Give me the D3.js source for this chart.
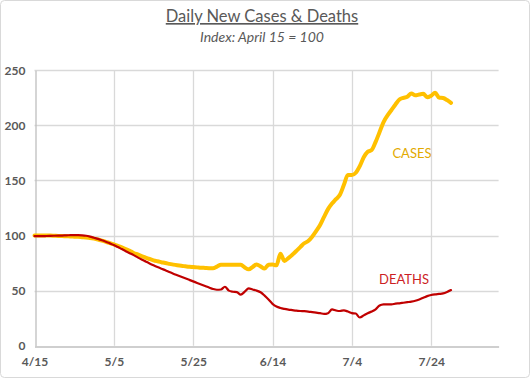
<!DOCTYPE html>
<html><head><meta charset="utf-8">
<script src="https://cdn.jsdelivr.net/npm/d3@7"></script>
<style>
html,body{margin:0;padding:0;background:#fff;}
svg{display:block;}
</style></head>
<body>
<svg id="chart" width="530" height="378"></svg>
<script>
// ---- DATA (daily, starting 4/15) ----
const startDate = "2020-04-15";
const cases = [100,100,100,100,100,99.8,99.6,99.5,99.3,99.2,99,98.8,98.5,98.2,97.8,97.2,96.4,95.4,94.3,93.2,
  92,90.6,89.2,87.7,86.2,84.2,82.8,81.4,80,78.7,77.5,76.6,75.8,75,74.3,73.6,73,72.5,72.1,71.7,
  71.4,71.1,70.8,70.6,70.4,70.3,71.8,73.5,73.5,73.5,73.5,73.5,73.4,71,69.3,71.5,73.8,72,70,73.5,
  73.6,73,83.5,77,79.5,82.5,86,89.5,93,95,99,104,109.6,117,124,129,133,137,146,155,
  155,157,163,171,176,177.6,185,194,203,209,214,219,223.5,225,226,229,227.3,228,228.6,225.5,
  227,229.6,225.2,224.8,223,220.5];
const deaths = [99.5,99.5,99.5,99.6,99.7,99.8,99.9,100,100.2,100.3,100.4,100.4,100.2,99.8,99,98,97,95.8,94.4,92.9,
  91.4,89.6,87.7,85.8,84,82.2,80.2,78.3,76.5,74.7,73,71.4,69.9,68.5,66.9,65.4,64,62.6,61.2,59.8,
  58.4,57,55.6,54.2,52.8,51.5,50.8,51,53.5,50,49,48.6,46.3,49,52,51,50,48.5,45.5,42,
  38,35.5,34.2,33.4,32.8,32.3,31.8,31.5,31.3,31,30.5,30,29.5,28.8,29.5,33,32,31.5,32.1,31,
  29.6,29.2,25.6,27.5,29.5,31,33,36.5,37.5,37.6,37.5,38.2,38.5,39,39.5,40,40.8,42,43.5,45,
  46,46.6,47,47.5,48.8,50.5];
const xTickDates = ["2020-04-15","2020-05-05","2020-05-25","2020-06-14","2020-07-04","2020-07-24"];
const yTicks = [0,50,100,150,200,250];
const titleText = "Daily New Cases & Deaths";
const subtitleText = "Index: April 15 = 100";
const seriesLabels = ["CASES","DEATHS"];

// ---- CHART ----
const svg = d3.select("#chart");
const W = 530, H = 378;
const m = {left:34.5, right:W-498.6, top:70.3, bottom:H-345.7};
const parse = d3.utcParse("%Y-%m-%d");
const t0 = parse(startDate);
const dayMs = 86400000;
const x = d3.scaleUtc()
  .domain([t0, new Date(+t0 + 117*dayMs)])
  .range([m.left, W-m.right]);
const y = d3.scaleLinear().domain([0,250]).range([H-m.bottom, m.top]);

svg.append("rect").attr("x",0.5).attr("y",0.5).attr("width",W-1).attr("height",H-1)
  .attr("rx",4).attr("fill","#fff").attr("stroke","#D9D9D9");

const font = "Lato, 'Open Sans', sans-serif";

// gridlines
const grid = svg.append("g");
grid.selectAll("line.h").data(yTicks.filter(d=>d>0)).join("line")
  .attr("x1",x.range()[0]).attr("x2",x.range()[1])
  .attr("y1",d=>Math.round(y(d))+0.5).attr("y2",d=>Math.round(y(d))+0.5)
  .attr("stroke","#D9D9D9").attr("stroke-width",1.3);
const xt = xTickDates.map(parse);
grid.selectAll("line.v").data(xt.slice(1)).join("line")
  .attr("x1",d=>Math.round(x(d))+0.5).attr("x2",d=>Math.round(x(d))+0.5)
  .attr("y1",y(250)).attr("y2",y(0))
  .attr("stroke","#D9D9D9").attr("stroke-width",1.3);

// axes
const xAxis = svg.append("g").attr("transform",`translate(0,${Math.round(y(0))+0.5})`)
  .call(d3.axisBottom(x).tickValues(xt).tickFormat(d3.utcFormat("%-m/%-d")).tickSize(0).tickPadding(11));
xAxis.select(".domain").attr("stroke","#BFBFBF").attr("stroke-width",1.3);
xAxis.selectAll("text").attr("font-family",font).attr("font-size",12).attr("font-weight",700).attr("fill","#595959");

const yAxis = svg.append("g").attr("transform",`translate(${Math.round(x.range()[0])+0.5},0)`)
  .call(d3.axisLeft(y).tickValues(yTicks).tickSize(0).tickPadding(10));
yAxis.select(".domain").attr("stroke","#BFBFBF").attr("stroke-width",1.3);
yAxis.selectAll("text").attr("font-family",font).attr("font-size",12).attr("font-weight",700).attr("fill","#595959");

// lines
const line = d3.line().x((d,i)=>x(new Date(+t0 + i*dayMs))).y(d=>y(d)).curve(d3.curveMonotoneX);
svg.append("path").datum(cases).attr("d",line).attr("fill","none")
  .attr("stroke","#FFC000").attr("stroke-width",4).attr("stroke-linejoin","round").attr("stroke-linecap","round");
svg.append("path").datum(deaths).attr("d",line).attr("fill","none")
  .attr("stroke","#C00000").attr("stroke-width",2.2).attr("stroke-linejoin","round").attr("stroke-linecap","round");

// series labels
svg.append("text").attr("x",412).attr("y",157.5).attr("text-anchor","middle")
  .attr("font-family",font).attr("font-size",13).attr("fill","#E2AA00").text(seriesLabels[0]);
svg.append("text").attr("x",404).attr("y",283.5).attr("text-anchor","middle")
  .attr("font-family",font).attr("font-size",13).attr("fill","#CC1E24").text(seriesLabels[1]);

// titles
svg.append("text").attr("x",262).attr("y",22).attr("text-anchor","middle")
  .attr("font-family",font).attr("font-size",16.5).attr("fill","#595959")
  .attr("text-decoration","underline").text(titleText);
svg.append("text").attr("x",262).attr("y",42).attr("text-anchor","middle")
  .attr("font-family",font).attr("font-size",14).attr("font-style","italic").attr("fill","#595959")
  .text(subtitleText);
</script>
</body></html>
